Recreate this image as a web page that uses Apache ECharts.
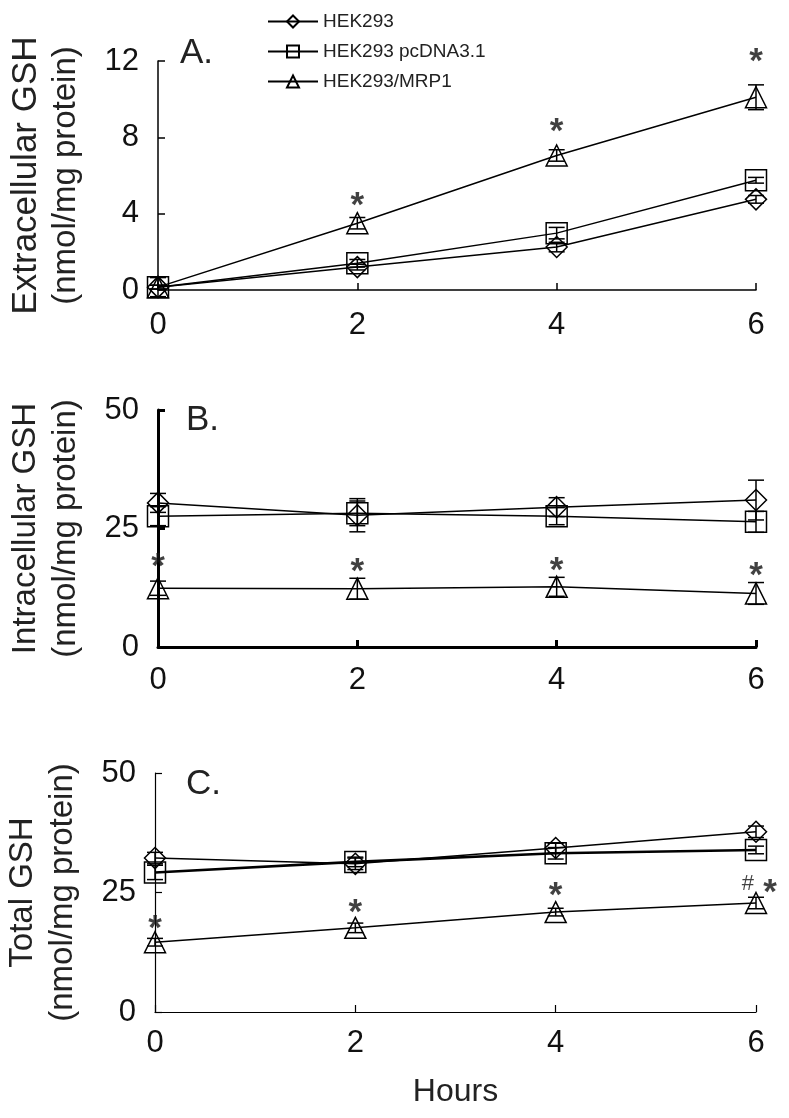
<!DOCTYPE html>
<html>
<head>
<meta charset="utf-8">
<script src="https://cdn.jsdelivr.net/npm/echarts@6/dist/echarts.min.js"></script>
<style>html,body{margin:0;padding:0;background:#fff}#c{width:789px;height:1118px}</style>
</head>
<body>
<div id="c"></div>
<script>
// ---- data ----
const hours = [0, 2, 4, 6];
const seriesNames = ['HEK293', 'HEK293 pcDNA3.1', 'HEK293/MRP1'];
const xTicks = ['0', '2', '4', '6'];

// Panel A: extracellular GSH
const hekA = [0.15, 1.2, 2.25, 4.75];
const pcA  = [0.15, 1.4, 2.98, 5.75];
const mrpA = [0.15, 3.5, 7.05, 10.1];
const hekAErr = [0.1, 0.15, 0.25, 0.2];
const pcAErr  = [0.1, 0.2, 0.3, 0.15];
const mrpAErr = [0.5, 0.3, 0.3, 0.65];
const sigA = [[2, 4.87], [4, 8.75], [6, 12.42]];

// Panel B: intracellular GSH
const hekB = [30.4, 27.8, 29.5, 31.0];
const pcB  = [27.6, 28.2, 27.6, 26.4];
const mrpB = [12.4, 12.3, 12.7, 11.3];
const hekBErr = [2.0, 3.5, 2.0, 4.2];
const pcBErr  = [2.0, 2.6, 1.8, 2.2];
const mrpBErr = [1.5, 2.2, 2.0, 2.3];
const sigB = [[0, 18.8], [2, 17.7], [4, 17.9], [6, 16.7]];

// Panel C: total GSH
const hekC = [32.2, 31.0, 34.3, 37.7];
const pcC  = [29.2, 31.4, 33.2, 33.9];
const mrpC = [14.6, 17.6, 20.9, 22.8];
const hekCErr = [1.2, 1.2, 1.0, 1.2];
const pcCErr  = [1.5, 1.0, 1.2, 0.8];
const mrpCErr = [0.8, 1.0, 0.8, 1.2];
const sigC = [[0, 19.2], [2, 22.6], [4, 26.1], [6.14, 26.8]];
const hashC = [[5.92, 26.8]];

// ---- chart ----
const FONT = 'Liberation Sans';
const symbols = ['diamond', 'rect', 'triangle'];
const chart = echarts.init(document.getElementById('c'));

function pairs(vals) { return hours.map((h, i) => [h, vals[i]]); }
function errData(vals, errs) { return hours.map((h, i) => [h, vals[i] - errs[i], vals[i] + errs[i]]); }

function errSeries(idx, vals, errs) {
  return {
    type: 'custom', xAxisIndex: idx, yAxisIndex: idx, silent: true, z: 3,
    data: errData(vals, errs), encode: { x: 0, y: [1, 2] },
    renderItem: function (params, api) {
      const x = api.value(0), lo = api.value(1), hi = api.value(2);
      const pt = api.coord([x, hi]), pb = api.coord([x, lo]);
      const hw = 8, st = { stroke: '#000', lineWidth: 1.5 };
      return { type: 'group', children: [
        { type: 'line', shape: { x1: pt[0], y1: pt[1], x2: pb[0], y2: pb[1] }, style: st },
        { type: 'line', shape: { x1: pt[0] - hw, y1: pt[1], x2: pt[0] + hw, y2: pt[1] }, style: st },
        { type: 'line', shape: { x1: pb[0] - hw, y1: pb[1], x2: pb[0] + hw, y2: pb[1] }, style: st }
      ] };
    }
  };
}

function lineSeries(idx, k, vals, width) {
  return {
    type: 'line', name: seriesNames[k], xAxisIndex: idx, yAxisIndex: idx, z: 4,
    data: pairs(vals), symbol: symbols[k], symbolSize: 21, showSymbol: true,
    lineStyle: { color: '#000', width: width || 1.5 },
    itemStyle: { color: 'rgba(255,255,255,0)', borderColor: '#000', borderWidth: 1.5 },
    emphasis: { disabled: true }, animation: false
  };
}

function markSeries(idx, pts, txt, size, bold) {
  return {
    type: 'scatter', xAxisIndex: idx, yAxisIndex: idx, clip: false, silent: true, z: 5,
    data: pts, symbolSize: 1, itemStyle: { color: 'rgba(0,0,0,0)' },
    label: { show: true, position: 'inside', formatter: txt, color: '#111',
      fontFamily: FONT, fontSize: size, fontWeight: bold ? 'bold' : 'normal',
      offset: [0, txt === '*' ? 9 : 0] }
  };
}

const grids = [
  { left: 158, width: 598, top: 61, height: 229 },
  { left: 158, width: 598, top: 410, height: 237 },
  { left: 155, width: 601, top: 773, height: 239 }
].map(g => Object.assign(g, { containLabel: false, outerBoundsMode: 'none' }));
const axisW = [1.5, 3, 1.2];
const yMax = [12, 50, 50];
const yInt = [4, 25, 25];
const yNames = [
  '{a|Extracellular GSH}\n{b|(nmol/mg protein)}',
  '{b|Intracellular GSH}\n{b|(nmol/mg protein)}',
  '{b|Total GSH}\n{b|(nmol/mg protein)}'
];
const xMargin = [20, 18, 16];

const xAxes = grids.map((g, i) => ({
  type: 'value', gridIndex: i, min: 0, max: 6, interval: 2,
  axisLine: { lineStyle: { color: '#000', width: axisW[i] } },
  axisTick: { inside: true, length: 7, lineStyle: { color: '#000', width: axisW[i] } },
  axisLabel: { color: '#111', fontFamily: FONT, fontSize: 31, margin: xMargin[i],
    formatter: v => xTicks[hours.indexOf(v)] },
  splitLine: { show: false },
  name: i === 2 ? 'Hours' : '', nameLocation: 'middle', nameGap: 64,
  nameTextStyle: { color: '#222', fontFamily: FONT, fontSize: 32 }
}));
const yAxes = grids.map((g, i) => ({
  type: 'value', gridIndex: i, min: 0, max: yMax[i], interval: yInt[i],
  axisLine: { show: true, lineStyle: { color: '#000', width: axisW[i] } },
  axisTick: { show: true, inside: true, length: 7, lineStyle: { color: '#000', width: axisW[i] } },
  axisLabel: { color: '#111', fontFamily: FONT, fontSize: 31, margin: 19 },
  splitLine: { show: false },
  name: yNames[i], nameLocation: 'middle', nameGap: 72, nameRotate: 90,
  nameTextStyle: { color: '#222', fontFamily: FONT, fontSize: 33, lineHeight: 40,
    rich: {
      a: { fontFamily: FONT, fontSize: 35, lineHeight: 40, color: '#222' },
      b: { fontFamily: FONT, fontSize: 33, lineHeight: 40, color: '#222' }
    } }
}));

const series = [];
const panels = [
  [hekA, pcA, mrpA, hekAErr, pcAErr, mrpAErr],
  [hekB, pcB, mrpB, hekBErr, pcBErr, mrpBErr],
  [hekC, pcC, mrpC, hekCErr, pcCErr, mrpCErr]
];
panels.forEach((p, i) => {
  for (let k = 0; k < 3; k++) series.push(errSeries(i, p[k], p[k + 3]));
  for (let k = 0; k < 3; k++) series.push(lineSeries(i, k, p[k], (i === 2 && k === 1) ? 2.6 : 1.5));
});
series.push(markSeries(0, sigA, '*', 35, true));
series.push(markSeries(1, sigB, '*', 35, true));
series.push(markSeries(2, sigC, '*', 35, true));
series.push(markSeries(2, hashC, '#', 22, false));

chart.setOption({
  animation: false,
  backgroundColor: '#fff',
  textStyle: { fontFamily: FONT },
  title: [
    { text: 'A.', left: 175, top: 31, textStyle: { fontFamily: FONT, fontSize: 35, fontWeight: 'normal', color: '#222' } },
    { text: 'B.', left: 181, top: 398, textStyle: { fontFamily: FONT, fontSize: 35, fontWeight: 'normal', color: '#222' } },
    { text: 'C.', left: 181, top: 762, textStyle: { fontFamily: FONT, fontSize: 35, fontWeight: 'normal', color: '#222' } }
  ],
  legend: {
    data: seriesNames, orient: 'vertical', left: 262, top: 7, itemWidth: 50, itemHeight: 15, itemGap: 11,
    textStyle: { fontFamily: FONT, fontSize: 19, color: '#222' }, selectedMode: false
  },
  grid: grids,
  xAxis: xAxes,
  yAxis: yAxes,
  series: series
});
</script>
</body>
</html>
